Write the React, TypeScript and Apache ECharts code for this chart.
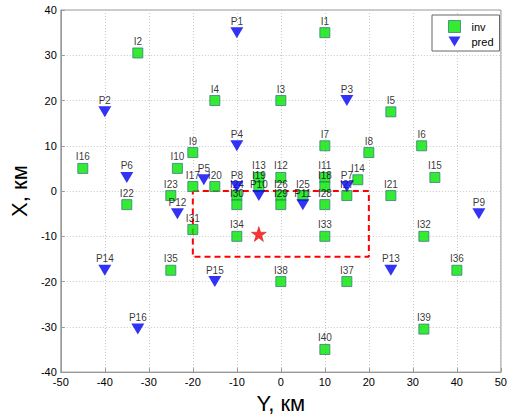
import React, { useEffect, useRef } from 'react';
import * as echarts from 'echarts';

// Horizontal axis = "Y, км", vertical axis = "X, км"
const invNames = ['I1','I2','I3','I4','I5','I6','I7','I8','I9','I10','I11','I12','I13','I14','I15','I16','I17','I18','I19','I20','I21','I22','I23','I24','I25','I26','I27','I28','I29','I30','I31','I32','I33','I34','I35','I36','I37','I38','I39','I40'];
const invY = [10, -32.5, 0, -15, 25, 32, 10, 20, -20, -23.5, 10, 0, -5, 17.5, 35, -45, -20, 10, -5, -15, 25, -35, -25, -10, 5, 0, 15, 10, 0, -10, -20, 32.5, 10, -10, -25, 40, 15, 0, 32.5, 10];
const invX = [35, 30.5, 20, 20, 17.5, 10, 10, 8.5, 8.5, 5, 3, 3, 3, 2.5, 3, 5, 1, 1, 1, 1, -1, -3, -1, -1, -1, -1, -1, -3, -3, -3, -8.5, -10, -10, -10, -17.5, -17.5, -20, -20, -30.5, -35];

const predNames = ['P1','P2','P3','P4','P5','P6','P7','P8','P9','P10','P11','P12','P13','P14','P15','P16'];
const predY = [-10, -40, 15, -10, -17.5, -35, 15, -10, 45, -5, 5, -23.5, 25, -40, -15, -32.5];
const predX = [35, 17.5, 20, 10, 2.5, 3, 1, 1, -5, -1, -3, -5, -17.5, -17.5, -20, -30.5];

const zoneY = [-20, 20, 20, -20, -20];
const zoneX = [0, 0, -14.5, -14.5, 0];

const starY = [-5];
const starX = [-9.5];

const xTicks = [-50, 50, 10];
const yTicks = [-40, 40, 10];

const TRI = 'path://M0,0 L20,0 L10,17 Z';
const STAR = 'path://M12,0 L14.9,8.6 L24,8.6 L16.6,14 L19.4,22.8 L12,17.4 L4.6,22.8 L7.4,14 L0,8.6 L9.1,8.6 Z';
const FONT = 'Liberation Sans, Arial, sans-serif';

export default function App() {
  const ref = useRef<HTMLDivElement>(null);
  useEffect(() => {
    if (!ref.current) return;
    const chart = echarts.init(ref.current, null, { renderer: 'svg' });
    const labelStyle = { show: true, position: 'top', distance: 1, fontSize: 10, fontFamily: FONT, color: '#000' };
    chart.setOption({
      animation: false,
      backgroundColor: '#fff',
      grid: { left: 42, right: 5, top: 10, bottom: 43, show: true, borderColor: '#999', borderWidth: 1, backgroundColor: 'transparent' },
      legend: {
        left: 432, top: 15, orient: 'vertical',
        backgroundColor: '#fff', borderColor: '#666', borderWidth: 1, borderRadius: 0,
        padding: [5, 6, 4, 16], itemWidth: 12, itemHeight: 12, itemGap: 3,
        textStyle: { fontSize: 11, fontFamily: FONT, color: '#000', padding: [0, 0, 0, 6] },
        data: [
          { name: 'inv', icon: 'rect', itemStyle: { color: '#00e600', borderColor: '#3c7d7d', borderWidth: 1 } },
          { name: 'pred', icon: TRI, itemStyle: { color: '#0000f0' } },
        ],
      },
      xAxis: {
        type: 'value', min: xTicks[0], max: xTicks[1], interval: xTicks[2],
        name: 'Y, км', nameLocation: 'middle', nameGap: 16,
        nameTextStyle: { fontSize: 22, fontFamily: FONT, color: '#000' },
        axisLine: { show: true, onZero: false, lineStyle: { color: '#999' } },
        axisTick: { show: true, inside: true, length: 4, lineStyle: { color: '#999' } },
        axisLabel: { fontSize: 11, fontFamily: FONT, color: '#000', margin: 4 },
        splitLine: { show: true, lineStyle: { color: '#c8c8c8', type: [1, 2] } },
      },
      yAxis: {
        type: 'value', min: yTicks[0], max: yTicks[1], interval: yTicks[2],
        name: 'X, км', nameLocation: 'middle', nameGap: 13,
        nameTextStyle: { fontSize: 22, fontFamily: FONT, color: '#000' },
        axisLine: { show: true, onZero: false, lineStyle: { color: '#999' } },
        axisTick: { show: true, inside: true, length: 4, lineStyle: { color: '#999' } },
        axisLabel: { fontSize: 11, fontFamily: FONT, color: '#000', margin: 4 },
        splitLine: { show: true, lineStyle: { color: '#c8c8c8', type: [1, 2] } },
      },
      series: [
        {
          name: 'zone', type: 'line', silent: true, symbol: 'none', z: 3,
          data: zoneY.map((v, i) => [v, zoneX[i]]),
          lineStyle: { color: '#ff0000', width: 2, type: [6, 4] },
        },
        {
          name: 'inv', type: 'scatter', symbol: 'rect', symbolSize: 10, z: 4,
          itemStyle: { color: '#00e600', borderColor: '#3c7d7d', borderWidth: 1 },
          label: { ...labelStyle, formatter: (p: any) => p.data[2] },
          data: invY.map((v, i) => [v, invX[i], invNames[i]]),
        },
        {
          name: 'pred', type: 'scatter', symbol: TRI, symbolSize: [13, 11], z: 5,
          itemStyle: { color: '#0000f0' },
          label: { ...labelStyle, formatter: (p: any) => p.data[2] },
          data: predY.map((v, i) => [v, predX[i], predNames[i]]),
        },
        {
          name: 'star', type: 'scatter', symbol: STAR, symbolSize: 15, z: 6,
          itemStyle: { color: '#ff0000', borderColor: '#b00000', borderWidth: 0.5 },
          data: starY.map((v, i) => [v, starX[i]]),
        },
      ],
    });
    return () => chart.dispose();
  }, []);
  return <div ref={ref} style={{ width: 510, height: 419, position: 'absolute', left: 0, top: 0 }} />;
}
